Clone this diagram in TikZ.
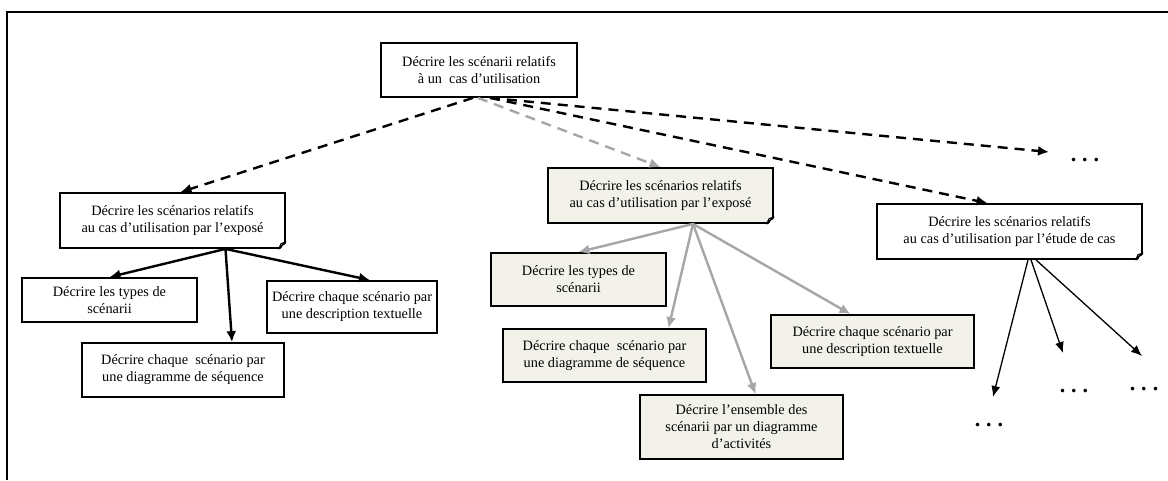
\documentclass[tikz,border=0pt]{standalone}
\usepackage{fontspec}
\setmainfont{Liberation Serif}
\usepackage{xcolor}
\usepackage{tikz}
\usetikzlibrary{positioning, arrows.meta, calc}
\definecolor{boxbeige}{RGB}{242,241,234}
\definecolor{linegrey}{RGB}{166,166,166}
% small folded corner at the bottom right of a box
\newcommand{\dogear}[1]{%
  \fill[white] ($(#1.south east)+(1.5,1.5)$) -- ($(#1.south east)+(-7,1.5)$) -- ($(#1.south east)+(1.5,-7)$) -- cycle;
  \draw[line width=1.2pt, line join=round] ($(#1.south east)+(-7,0)$) -- ($(#1.south east)+(-5,-5)$) -- ($(#1.south east)+(0,-7)$) -- cycle;
}
\newcommand{\etc}{\bfseries .\hspace{6pt}.\hspace{6pt}.}

\begin{document}
\begin{tikzpicture}[
  x=1pt, y=-1pt,
  box/.style={rectangle, draw, line width=1.8pt, inner sep=0pt, align=center, font=\fontsize{14.3}{17}\selectfont},
  dots/.style={inner sep=0pt, font=\fontsize{22}{22}\selectfont},
  solidarrow/.style={line width=2.4pt, -{Latex[length=11pt, width=10pt]}},
  greyarrow/.style={line width=2.4pt, draw=linegrey, -{Latex[length=11pt, width=10pt]}, color=linegrey},
  thinarrow/.style={line width=1.3pt, -{Latex[length=11pt, width=9pt]}},
  dasharrow/.style={line width=2.4pt, dash pattern=on 10pt off 7pt, -{Latex[length=11pt, width=10pt]}}
]
\useasboundingbox (0,0) rectangle (1168,480);
\draw[line width=1.5pt] (7,480) -- (7,12) -- (1168,12);

% top
\node[box, minimum width=196pt, minimum height=54pt] (top) at (479,70) {Décrire les scénarii relatifs\\à un~ cas d’utilisation};

% left branch
\node[box, minimum width=225pt, minimum height=55pt] (l0) at (172.5,220.5) {Décrire les scénarios relatifs\\au cas d’utilisation par l’exposé};
\dogear{l0}
\node[box, minimum width=175pt, minimum height=44pt] (l1) at (109.5,300) {Décrire les types de\\scénarii};
\node[box, minimum width=202pt, minimum height=54pt] (l2) at (183,370) {Décrire chaque~ scénario par\\une diagramme de séquence};
\node[box, minimum width=170pt, minimum height=52pt] (l3) at (352,307) {Décrire chaque scénario par\\une description textuelle};

% middle branch
\node[box, fill=boxbeige, minimum width=225pt, minimum height=55pt] (m0) at (660.5,195.5) {Décrire les scénarios relatifs\\au cas d’utilisation par l’exposé};
\dogear{m0}
\node[box, fill=boxbeige, minimum width=175pt, minimum height=53pt] (m1) at (578.5,279.5) {Décrire les types de\\scénarii};
\node[box, fill=boxbeige, minimum width=203pt, minimum height=53pt] (m2) at (604.5,355.5) {Décrire chaque~ scénario par\\une diagramme de séquence};
\node[box, fill=boxbeige, minimum width=203pt, minimum height=64pt] (m3) at (741.5,427) {Décrire l’ensemble des\\scénarii par un diagramme\\d’activités};
\node[box, fill=boxbeige, minimum width=203pt, minimum height=53pt] (m4) at (872.5,341.5) {Décrire chaque scénario par\\une description textuelle};

% right branch
\node[box, minimum width=265pt, minimum height=55pt] (r0) at (1009.5,231.5) {Décrire les scénarios relatifs\\au cas d’utilisation par l’étude de cas};
\dogear{r0}
\node[dots] (d0) at (1085,160) {\etc};
\node[dots] (d1) at (989,425) {\etc};
\node[dots] (d2) at (1074,391) {\etc};
\node[dots] (d3) at (1144,389) {\etc};
\coordinate (e0) at (1049,152);
\coordinate (e1) at (993,397);
\coordinate (e2) at (1063,353);
\coordinate (e3) at (1142,356);

% dashed links from the top
\draw[dasharrow] ($(top.south)+(-6,0)$) -- ($(l0.north)+(8,0)$);
\draw[dasharrow, color=linegrey] ($(top.south)+(-1,0)$) -- (m0.north);
\draw[dasharrow] ($(top.south)+(11,0)$) -- (e0);
\draw[dasharrow] ($(top.south)+(11,0)$) -- ($(r0.north)+(-22,0)$);

% left links
\draw[solidarrow] ($(l0.south)+(53,0)$) -- (l1.north);
\draw[solidarrow] ($(l0.south)+(53,0)$) -- ($(l2.north)+(49,0)$);
\draw[solidarrow] ($(l0.south)+(53,0)$) -- ($(l3.north)+(18,0)$);

% middle links
\draw[greyarrow] ($(m0.south)+(32.5,0)$) -- (m1.north);
\draw[greyarrow] ($(m0.south)+(32.5,0)$) -- ($(m2.north)+(64,0)$);
\draw[greyarrow] ($(m0.south)+(32.5,0)$) -- ($(m3.north)+(14,0)$);
\draw[greyarrow] ($(m0.south)+(32.5,0)$) -- ($(m4.north)+(-22,0)$);

% right links
\draw[thinarrow] ($(r0.south)+(18.5,0)$) -- (e1);
\draw[thinarrow] ($(r0.south)+(21.5,0)$) -- (e2);
\draw[thinarrow] ($(r0.south)+(26.5,0)$) -- (e3);
\end{tikzpicture}
\end{document}
